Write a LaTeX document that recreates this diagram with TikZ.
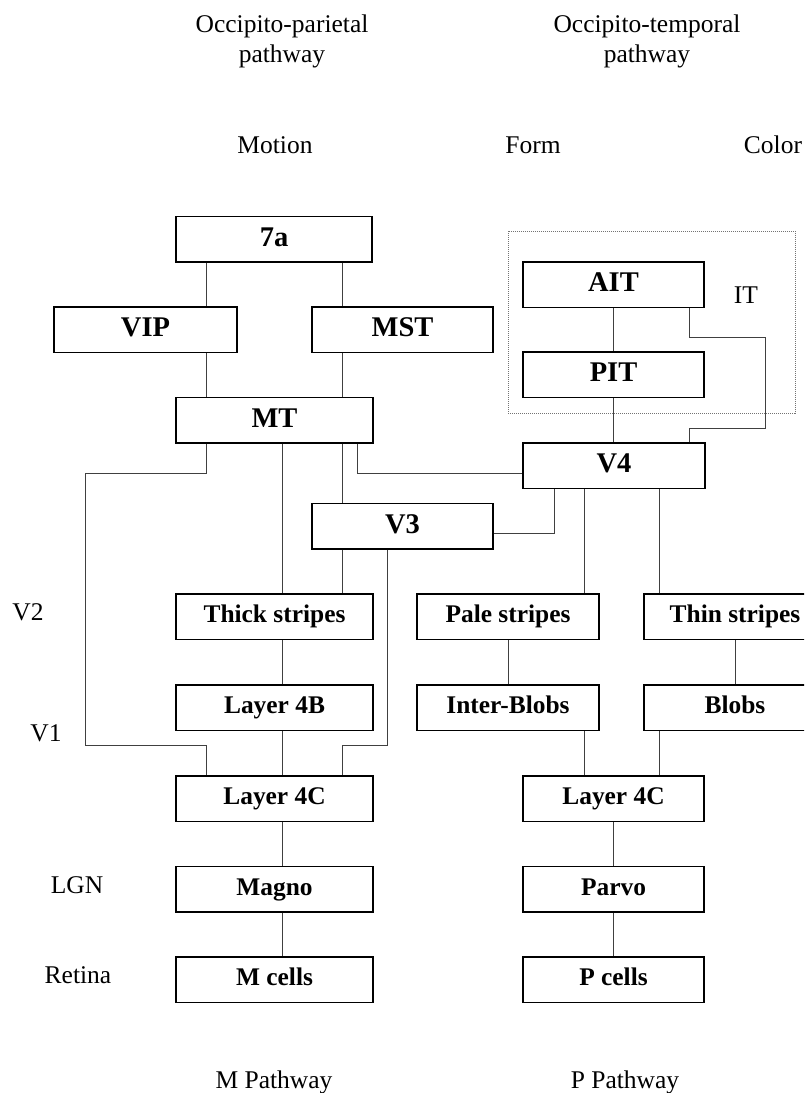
\documentclass[tikz,border=0pt]{standalone}
\usepackage{fontspec}
\setmainfont{Liberation Serif}
\begin{document}
\begin{tikzpicture}[x=1pt,y=-1pt,
  box/.style={draw=black,line width=1.5pt,inner sep=0pt,
    minimum width=181pt,minimum height=45.5pt,
    text height=17.8pt,text depth=5.1pt,
    font=\bfseries\fontsize{25.4}{28}\selectfont},
  big/.style={text height=20pt,text depth=5.7pt,
    font=\bfseries\fontsize{28.5}{32}\selectfont},
  wide/.style={minimum width=197pt},
  lbl/.style={inner sep=0pt,anchor=base,font=\fontsize{25.5}{30}\selectfont},
  link/.style={line width=1pt,draw=black!75},
  itbox/.style={draw=black!55,line width=0.8pt,dash pattern=on 1pt off 1pt,
    inner sep=0pt,minimum width=287pt,minimum height=182pt}]

\useasboundingbox (0,0) rectangle (804,1093);
\clip (0,0) rectangle (804,1093);

% column headings
\node[lbl] (hpar1) at (282,32) {Occipito-parietal};
\node[lbl] (hpar2) at (282,62) {pathway};
\node[lbl] (htem1) at (647,32) {Occipito-temporal};
\node[lbl] (htem2) at (647,62) {pathway};
\node[lbl] (motion) at (275,153) {Motion};
\node[lbl] (form) at (533,153) {Form};
\node[lbl] (color) at (773,153) {Color};

% level labels
\node[lbl] (lv2) at (28,620) {V2};
\node[lbl] (lv1) at (46,741) {V1};
\node[lbl] (llgn) at (77,893) {LGN};
\node[lbl] (lret) at (78,983) {Retina};
\node[lbl] (mpath) at (274,1088) {M Pathway};
\node[lbl] (ppath) at (625,1088) {P Pathway};

% inferotemporal region
\node[itbox] (itregion) at (651.5,322) {};
\node[lbl] (itlabel) at (746,303) {IT};

% areas
\node[box,big,wide,minimum width=196pt] (a7) at (274,239) {7a};
\node[box,big,minimum width=183pt] (vip) at (145.5,329.5) {VIP};
\node[box,big] (mst) at (402.5,329.5) {MST};
\node[box,big,wide] (mt) at (274.5,420) {MT};
\node[box,big] (ait) at (613.5,284.5) {AIT};
\node[box,big] (pit) at (613.5,374.5) {PIT};
\node[box,big,minimum width=182pt] (v4) at (614,465.5) {V4};
\node[box,big] (v3) at (402.5,526) {V3};
\node[box,wide] (thick) at (274.5,616.5) {Thick stripes};
\node[box,minimum width=182pt] (pale) at (508,616.5) {Pale stripes};
\node[box,minimum width=182pt] (thin) at (735,616.5) {Thin stripes};
\node[box,wide] (l4b) at (274.5,707.5) {Layer 4B};
\node[box,minimum width=182pt] (inter) at (508,707.5) {Inter-Blobs};
\node[box,minimum width=182pt] (blobs) at (735,707.5) {Blobs};
\node[box,wide] (l4cm) at (274.5,798.5) {Layer 4C};
\node[box] (l4cp) at (613.5,798.5) {Layer 4C};
\node[box,wide] (magno) at (274.5,889) {Magno};
\node[box] (parvo) at (613.5,889) {Parvo};
\node[box,wide] (mcells) at (274.5,979.5) {M cells};
\node[box] (pcells) at (613.5,979.5) {P cells};

% dorsal stream
\draw[link] (a7.south -| 206,0) -- (vip.north -| 206,0);
\draw[link] (a7.south -| 342,0) -- (mst.north -| 342,0);
\draw[link] (vip.south -| 206,0) -- (mt.north -| 206,0);
\draw[link] (mst.south -| 342,0) -- (mt.north -| 342,0);
\draw[link] (mt.south -| 342,0) -- (v3.north -| 342,0);
\draw[link] (mt.south -| 357,0) -- (357,473) -- (v4.west |- 0,473);
\draw[link] (mt.south -| 282,0) -- (thick.north -| 282,0);
\draw[link] (mt.south -| 206,0) -- (206,473) -- (85,473) -- (85,745)
  -- (206,745) -- (l4cm.north -| 206,0);
\draw[link] (v3.east |- 0,533) -- (554,533) -- (v4.south -| 554,0);
\draw[link] (v3.south -| 342,0) -- (thick.north -| 342,0);
\draw[link] (v3.south -| 387,0) -- (387,745) -- (342,745) -- (l4cm.north -| 342,0);
\draw[link] (thick.south -| 282,0) -- (l4b.north -| 282,0);
\draw[link] (l4b.south -| 282,0) -- (l4cm.north -| 282,0);
\draw[link] (l4cm.south -| 282,0) -- (magno.north -| 282,0);
\draw[link] (magno.south -| 282,0) -- (mcells.north -| 282,0);

% ventral stream
\draw[link] (ait) -- (pit);
\draw[link] (pit.south) -- (pit.south |- v4.north);
\draw[link] (ait.south -| 689,0) -- (689,337) -- (765,337) -- (765,428)
  -- (689,428) -- (v4.north -| 689,0);
\draw[link] (v4.south -| 584,0) -- (pale.north -| 584,0);
\draw[link] (v4.south -| 659,0) -- (thin.north -| 659,0);
\draw[link] (pale) -- (inter);
\draw[link] (thin) -- (blobs);
\draw[link] (inter.south -| 584,0) -- (l4cp.north -| 584,0);
\draw[link] (blobs.south -| 659,0) -- (l4cp.north -| 659,0);
\draw[link] (l4cp) -- (parvo);
\draw[link] (parvo) -- (pcells);
\end{tikzpicture}
\end{document}
